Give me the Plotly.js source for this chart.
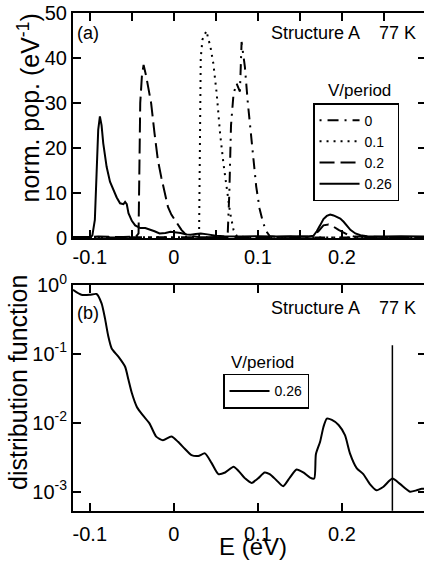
<!DOCTYPE html>
<html>
<head>
<meta charset="utf-8">
<script src="https://cdn.plot.ly/plotly-3.0.1.min.js"></script>
<style>
html,body{margin:0;padding:0;overflow:hidden;background:#fff;}
#chart{width:426px;height:563px;}
</style>
</head>
<body>
<div id="chart"></div>
<script>
// ---- Panel (a): normalized population (eV^-1) vs E (eV) ----
const legendNames = ["0", "0.1", "0.2", "0.26"];

const eV0 = [-0.12, 0.0, 0.06, 0.064, 0.066, 0.068, 0.071, 0.0746, 0.0786, 0.0806, 0.0845, 0.088, 0.0905, 0.094, 0.098, 0.102, 0.106, 0.110, 0.114, 0.13, 0.2, 0.3];
const pop0 = [0.1, 0.1, 0.2, 0.5, 10, 25, 32, 34.3, 32.5, 43.5, 38, 30, 25, 18, 11.4, 6.5, 3.5, 1.5, 0.4, 0.1, 0.1, 0.1];

const eV01 = [-0.12, -0.05, 0.0, 0.025, 0.030, 0.031, 0.032, 0.034, 0.036, 0.039, 0.041, 0.043, 0.047, 0.051, 0.055, 0.059, 0.063, 0.067, 0.071, 0.075, 0.085, 0.12, 0.2, 0.3];
const pop01 = [0.1, 0.1, 0.1, 0.2, 0.5, 20, 40, 44, 45, 46, 44, 43, 38.7, 32, 23.2, 16.5, 10.6, 5.5, 1.8, 0.4, 0.2, 0.1, 0.1, 0.1];

const eV02 = [-0.12, -0.09, -0.06, -0.045, -0.042, -0.041, -0.040, -0.038, -0.036, -0.033, -0.030, -0.027, -0.023, -0.019, -0.015, -0.011, -0.007, -0.003, 0.001, 0.005, 0.009, 0.013, 0.017, 0.030, 0.060, 0.100, 0.140, 0.165, 0.172, 0.178, 0.184, 0.190, 0.196, 0.202, 0.208, 0.215, 0.240, 0.270, 0.300];
const pop02 = [0.1, 0.3, 0.2, 0.3, 1, 15, 30, 36, 38.4, 36, 32.5, 29.9, 23.2, 17.3, 13.5, 10, 6.9, 5.2, 4.0, 2.8, 1.8, 1.0, 0.5, 0.2, 0.1, 0.2, 0.2, 0.3, 1.5, 2.8, 3.0, 2.5, 1.8, 1.2, 0.6, 0.3, 0.2, 0.1, 0.1];

const eV026 = [-0.12, -0.10, -0.097, -0.094, -0.092, -0.090, -0.088, -0.086, -0.084, -0.080, -0.076, -0.072, -0.068, -0.064, -0.060, -0.058, -0.056, -0.054, -0.050, -0.046, -0.040, -0.034, -0.029, -0.023, -0.017, -0.010, -0.004, 0.002, 0.008, 0.014, 0.020, 0.026, 0.032, 0.040, 0.050, 0.060, 0.080, 0.100, 0.120, 0.140, 0.160, 0.166, 0.170, 0.174, 0.178, 0.182, 0.186, 0.190, 0.194, 0.198, 0.202, 0.206, 0.210, 0.216, 0.222, 0.230, 0.250, 0.270, 0.300];
const pop026 = [0.2, 0.2, 0.5, 4, 14, 24, 27, 25, 21, 15.8, 12.5, 10.6, 9, 7.7, 7.5, 8, 7.5, 5.5, 3.8, 2.8, 2.2, 2.2, 1.9, 1.5, 1.0, 1.1, 1.4, 1.3, 1.1, 0.8, 0.7, 0.9, 1.0, 0.8, 0.5, 0.4, 0.3, 0.4, 0.3, 0.4, 0.3, 0.5, 1.5, 2.8, 4.2, 4.9, 5.2, 5.0, 4.7, 4.3, 3.6, 2.7, 1.8, 1.0, 0.6, 0.4, 0.3, 0.4, 0.3];

// ---- Panel (b): distribution function (log) for V/period = 0.26 ----
const eDist = [-0.12, -0.110, -0.100, -0.092, -0.086, -0.082, -0.078, -0.074, -0.066, -0.058, -0.054, -0.050, -0.044, -0.037, -0.029, -0.021, -0.013, -0.003, 0.005, 0.013, 0.021, 0.029, 0.037, 0.045, 0.053, 0.061, 0.071, 0.077, 0.085, 0.0925, 0.100, 0.108, 0.114, 0.122, 0.130, 0.138, 0.146, 0.154, 0.162, 0.167, 0.169, 0.174, 0.178, 0.182, 0.188, 0.196, 0.2036, 0.2095, 0.2175, 0.2254, 0.233, 0.241, 0.249, 0.260, 0.269, 0.281, 0.289, 0.295, 0.300];
const fDist = [0.85, 0.72, 0.72, 0.74, 0.54, 0.33, 0.18, 0.12, 0.091, 0.065, 0.042, 0.027, 0.017, 0.0129, 0.0098, 0.0063, 0.0056, 0.0063, 0.0053, 0.0042, 0.0034, 0.0033, 0.0036, 0.0026, 0.0018, 0.0019, 0.0023, 0.0020, 0.00155, 0.00134, 0.00155, 0.0019, 0.0018, 0.00147, 0.0012, 0.0016, 0.0021, 0.0019, 0.0016, 0.00155, 0.0035, 0.0053, 0.0087, 0.0115, 0.011, 0.0093, 0.0066, 0.0036, 0.0022, 0.0018, 0.0013, 0.00105, 0.00117, 0.00155, 0.0013, 0.0010, 0.00105, 0.0011, 0.0011];

// vertical marker at applied V/period
const markerE = [0.26, 0.26];
const markerF = [0.0004, 0.134];

const xTickVals = [-0.1, 0, 0.1, 0.2];
const xTickText = ["-0.1", "0", "0.1", "0.2"];
const yLogVals = [1, 0.1, 0.01, 0.001];
const yLogText = ["10<sup>0</sup>", "10<sup>-1</sup>", "10<sup>-2</sup>", "10<sup>-3</sup>"];

const FONT = "Liberation Sans, Arial, Helvetica, sans-serif";
const lw = 2;

const traces = [
  {x: eV0, y: pop0, name: legendNames[0], type: "scatter", mode: "lines", xaxis: "x", yaxis: "y",
   line: {color: "#000", width: lw, dash: "2px,6px,11px,6px"}, legend: "legend"},
  {x: eV01, y: pop01, name: legendNames[1], type: "scatter", mode: "lines", xaxis: "x", yaxis: "y",
   line: {color: "#000", width: lw, dash: "2px,5px"}, legend: "legend"},
  {x: eV02, y: pop02, name: legendNames[2], type: "scatter", mode: "lines", xaxis: "x", yaxis: "y",
   line: {color: "#000", width: lw, dash: "15px,6px"}, legend: "legend"},
  {x: eV026, y: pop026, name: legendNames[3], type: "scatter", mode: "lines", xaxis: "x", yaxis: "y",
   line: {color: "#000", width: lw}, legend: "legend"},
  {x: eDist, y: fDist, name: legendNames[3], type: "scatter", mode: "lines", xaxis: "x2", yaxis: "y2",
   line: {color: "#000", width: lw, shape: "spline", smoothing: 0.6}, legend: "legend2"},
  {x: markerE, y: markerF, type: "scatter", mode: "lines", xaxis: "x2", yaxis: "y2",
   line: {color: "#000", width: 1.5}, showlegend: false, hoverinfo: "skip"}
];

const axisCommon = {
  showline: true, linewidth: 2, linecolor: "#000", mirror: "ticks",
  ticks: "inside", ticklen: 8, tickwidth: 2, tickcolor: "#000",
  showgrid: false, zeroline: false,
  tickfont: {family: FONT, size: 20, color: "#000"}
};

const layout = {
  width: 426, height: 563,
  margin: {l: 73, r: 0, t: 0, b: 0, autoexpand: false},
  paper_bgcolor: "#fff", plot_bgcolor: "#fff",
  font: {family: FONT, color: "#000"},
  xaxis: Object.assign({}, axisCommon, {
    domain: [0, 1], range: [-0.12, 0.3], anchor: "y",
    tickmode: "array", tickvals: xTickVals, ticktext: xTickText,
    minor: {dtick: 0.05, tick0: 0, ticks: "inside", ticklen: 8, tickwidth: 2, tickcolor: "#000"},
    ticklabelstandoff: 0
  }),
  yaxis: Object.assign({}, axisCommon, {
    domain: [0.5773, 0.9774], range: [0, 50], anchor: "x",
    tickmode: "array", tickvals: [0, 10, 20, 30, 40, 50]
  }),
  xaxis2: Object.assign({}, axisCommon, {
    domain: [0, 1], range: [-0.12, 0.3], anchor: "y2",
    tickmode: "array", tickvals: xTickVals, ticktext: xTickText,
    ticklabelstandoff: 4
  }),
  yaxis2: Object.assign({}, axisCommon, {
    domain: [0.0929, 0.4938], type: "log", range: [-3.276, 0], anchor: "x2",
    tickmode: "array", tickvals: yLogVals, ticktext: yLogText
  }),
  legend: {
    x: 0.68, y: 0.817, xanchor: "left", yanchor: "top", xref: "paper", yref: "paper",
    bordercolor: "#000", borderwidth: 1.5, bgcolor: "#fff",
    font: {family: FONT, size: 14, color: "#000"}, itemwidth: 40,
    tracegroupgap: 0
  },
  legend2: {
    x: 0.425, y: 0.336, xanchor: "left", yanchor: "top", xref: "paper", yref: "paper",
    bordercolor: "#000", borderwidth: 1.5, bgcolor: "#fff",
    font: {family: FONT, size: 14, color: "#000"}, itemwidth: 40
  },
  annotations: [
    // axis titles
    {text: "norm. pop. (eV<sup>-1</sup>)", xref: "paper", yref: "paper", x: -0.1246, y: 0.8073,
     xanchor: "center", yanchor: "middle", textangle: -90, showarrow: false, font: {size: 25}},
    {text: "distribution function", xref: "paper", yref: "paper", x: -0.1558, y: 0.3197,
     xanchor: "center", yanchor: "middle", textangle: -90, showarrow: false, font: {size: 25}},
    {text: "E (eV)", xref: "paper", yref: "paper", x: 0.5108, y: 0.029,
     xanchor: "center", yanchor: "middle", showarrow: false, font: {size: 24}},
    // panel labels
    {text: "(a)", xref: "paper", yref: "paper", x: 0.006, y: 0.9414, xanchor: "left", yanchor: "middle", showarrow: false, font: {size: 18}},
    {text: "Structure A", xref: "paper", yref: "paper", x: 0.818, y: 0.9414, xanchor: "right", yanchor: "middle", showarrow: false, font: {size: 18}},
    {text: "77 K", xref: "paper", yref: "paper", x: 0.977, y: 0.9414, xanchor: "right", yanchor: "middle", showarrow: false, font: {size: 18}},
    {text: "V/period", xref: "paper", yref: "paper", x: 0.813, y: 0.8385, xanchor: "center", yanchor: "middle", showarrow: false, font: {size: 17}},
    {text: "(b)", xref: "paper", yref: "paper", x: 0.006, y: 0.444, xanchor: "left", yanchor: "middle", showarrow: false, font: {size: 18}},
    {text: "Structure A", xref: "paper", yref: "paper", x: 0.818, y: 0.4529, xanchor: "right", yanchor: "middle", showarrow: false, font: {size: 18}},
    {text: "77 K", xref: "paper", yref: "paper", x: 0.977, y: 0.4529, xanchor: "right", yanchor: "middle", showarrow: false, font: {size: 18}},
    {text: "V/period", xref: "paper", yref: "paper", x: 0.538, y: 0.3553, xanchor: "center", yanchor: "middle", showarrow: false, font: {size: 17}}
  ],
  showlegend: true
};

Plotly.newPlot("chart", traces, layout, {staticPlot: true, displayModeBar: false});
</script>
</body>
</html>
